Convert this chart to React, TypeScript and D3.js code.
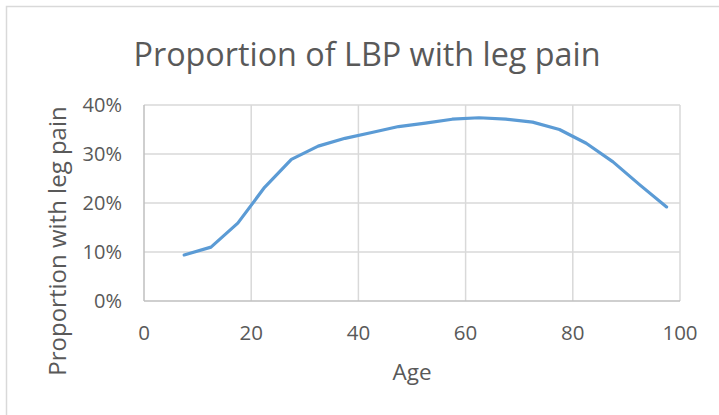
import React from "react";
import * as d3 from "d3";

const ages = [7.5, 12.5, 17.5, 22.5, 27.5, 32.5, 37.5, 42.5, 47.5, 52.5, 57.5, 62.5, 67.5, 72.5, 77.5, 82.5, 87.5, 92.5, 97.5];
const proportions = [0.094, 0.11, 0.159, 0.232, 0.289, 0.316, 0.332, 0.344, 0.356, 0.363, 0.371, 0.374, 0.371, 0.365, 0.35, 0.322, 0.284, 0.237, 0.192];
const xTicks = [0, 20, 40, 60, 80, 100];
const yTicks = [0, 0.1, 0.2, 0.3, 0.4];

const title = "Proportion of LBP with leg pain";
const xTitle = "Age";
const yTitle = "Proportion with leg pain";

const W = 719;
const H = 415;
const FONT = "'Open Sans', 'Noto Sans', sans-serif";
const TEXT = "#595959";

export default function App() {
  const x = d3.scaleLinear().domain([0, 100]).range([144, 680]);
  const y = d3.scaleLinear().domain([0, 0.4]).range([301, 105]);
  const line = d3
    .line<number>()
    .x((_, i) => x(ages[i]))
    .y((d) => y(d));
  const fmt = d3.format(".0%");

  return (
    <svg
      width={W}
      height={H}
      style={{ position: "absolute", left: 0, top: 0, background: "#fff" }}
      fontFamily={FONT}
    >
      <rect x={0} y={0} width={W} height={H} fill="#fff" />
      <rect x={6.5} y={6.5} width={W + 10} height={H + 10} fill="#fff" stroke="#d9d9d9" strokeWidth={1.5} />
      <text
        x={367}
        y={66}
        textAnchor="middle"
        fontSize={33}
        fill={TEXT}
        textLength={467}
        lengthAdjust="spacingAndGlyphs"
      >
        {title}
      </text>
      {/* gridlines */}
      {yTicks.slice(1).map((t) => (
        <line key={"gy" + t} x1={x(0)} x2={x(100)} y1={y(t)} y2={y(t)} stroke="#d9d9d9" strokeWidth={1.5} />
      ))}
      {xTicks.slice(1).map((t) => (
        <line key={"gx" + t} x1={x(t)} x2={x(t)} y1={y(0)} y2={y(0.4)} stroke="#d9d9d9" strokeWidth={1.5} />
      ))}
      {/* axes */}
      <line x1={x(0)} x2={x(100)} y1={y(0)} y2={y(0)} stroke="#bfbfbf" strokeWidth={1.5} />
      <line x1={x(0)} x2={x(0)} y1={y(0)} y2={y(0.4)} stroke="#bfbfbf" strokeWidth={1.5} />
      {/* y tick labels */}
      {yTicks.map((t) => (
        <text key={"yt" + t} x={122} y={y(t) + 7.3} textAnchor="end" fontSize={20} fill={TEXT}>
          {fmt(t)}
        </text>
      ))}
      {/* x tick labels */}
      {xTicks.map((t) => (
        <text key={"xt" + t} x={x(t)} y={340} textAnchor="middle" fontSize={20.5} fill={TEXT}>
          {t}
        </text>
      ))}
      <text x={412} y={380} textAnchor="middle" fontSize={22.5} fill={TEXT}>
        {xTitle}
      </text>
      <text
        transform={`translate(66, 241) rotate(-90)`}
        textAnchor="middle"
        fontSize={24}
        fill={TEXT}
      >
        {yTitle}
      </text>
      <path d={line(proportions) || ""} fill="none" stroke="#5b9bd5" strokeWidth={3.2} strokeLinejoin="round" strokeLinecap="round" />
    </svg>
  );
}
